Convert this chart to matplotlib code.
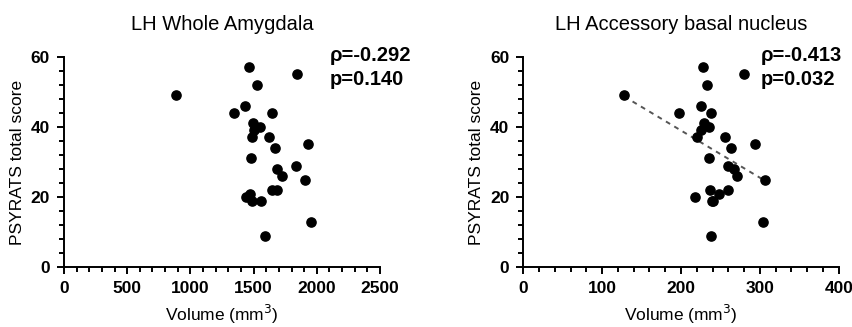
import numpy as np
import matplotlib
matplotlib.use('Agg')
from matplotlib import pyplot as plt
from matplotlib.ticker import MultipleLocator

plt.rcParams['font.family'] = ['Liberation Sans', 'DejaVu Sans']

# PSYRATS scores (same subjects in both panels)
score = [49, 57, 55, 52, 46, 44, 44, 41, 40, 39, 37, 37, 34, 35, 31, 29, 28, 26, 25,
         22, 22, 21, 20, 19, 19, 13, 9]

# LH whole amygdala volume
vol_whole = [883, 1466, 1846, 1524, 1434, 1345, 1643, 1498, 1550, 1505, 1489, 1618, 1666,
             1933, 1479, 1835, 1682, 1721, 1904, 1643, 1688, 1471, 1440, 1487, 1561, 1954, 1592]

# LH accessory basal nucleus volume
vol_abn = [128, 227.5, 280, 232.6, 225, 198, 238.4, 229.2, 236, 225, 220.7, 255.4, 263.4,
           294, 236, 260, 267.2, 271, 306.6, 259.2, 236.8, 248.6, 217.8, 239.3, 240, 303.6, 238.4]

titles = ['LH Whole Amygdala', 'LH Accessory basal nucleus']
stats = [('ρ=-0.292', 'p=0.140'), ('ρ=-0.413', 'p=0.032')]

fig = plt.figure(figsize=(8.52, 3.27), dpi=100)
ax1 = fig.add_axes([0.0751, 0.1826, 0.3709, 0.644])
ax2 = fig.add_axes([0.6142, 0.1826, 0.3702, 0.644])


def style(ax, xmax, xmajor, xminor, title, st, stx):
    ax.set_xlim(0, xmax)
    ax.set_ylim(0, 60)
    ax.xaxis.set_major_locator(MultipleLocator(xmajor))
    ax.xaxis.set_minor_locator(MultipleLocator(xminor))
    ax.yaxis.set_major_locator(MultipleLocator(20))
    ax.yaxis.set_minor_locator(MultipleLocator(4))
    for s in ['top', 'right']:
        ax.spines[s].set_visible(False)
    for s in ['left', 'bottom']:
        ax.spines[s].set_linewidth(1.4)
    ax.tick_params(which='major', length=5, width=1.4, labelsize=12.5, pad=5)
    ax.tick_params(which='minor', length=3.5, width=1.4)
    for lab in ax.get_xticklabels() + ax.get_yticklabels():
        lab.set_fontweight('bold')
    ax.set_title(title, fontsize=14.5, pad=19)
    ax.set_ylabel('PSYRATS total score', fontsize=12.5, labelpad=4)
    ax.set_xlabel('Volume (mm$^3$)', fontsize=12.5, labelpad=5)
    ax.text(stx, 1.008, st[0], transform=ax.transAxes, fontsize=14.5, fontweight='bold',
            ha='left', va='center')
    ax.text(stx, 0.89, st[1], transform=ax.transAxes, fontsize=14.5, fontweight='bold',
            ha='left', va='center')


ax1.scatter(vol_whole, score, s=44, color='black', clip_on=False, zorder=3)
style(ax1, 2500, 500, 100, titles[0], stats[0], 0.842)

ax2.scatter(vol_abn, score, s=44, color='black', clip_on=False, zorder=3)
k, b = np.polyfit(vol_abn, score, 1)
xs = np.array([min(vol_abn), max(vol_abn)])
ax2.plot(xs, k * xs + b, color='#555555', lw=1.4, ls=(0, (2.5, 2.5)), zorder=2)
style(ax2, 400, 100, 20, titles[1], stats[1], 0.754)

fig.savefig('out.png', dpi=100)
